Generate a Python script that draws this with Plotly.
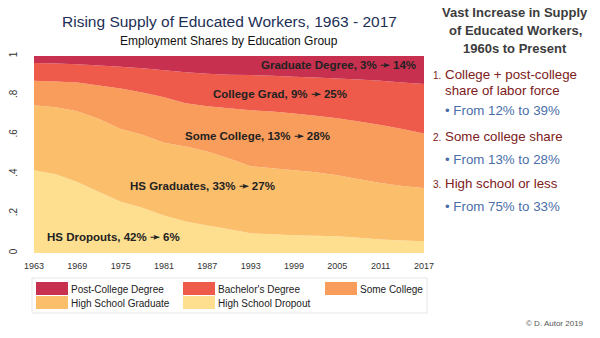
import plotly.graph_objects as go

years = [1963, 1966, 1969, 1972, 1975, 1978, 1981, 1984, 1987, 1990,
         1993, 1996, 1999, 2002, 2005, 2008, 2011, 2014, 2017]
hs_dropout = [0.42, 0.40, 0.36, 0.31, 0.26, 0.23, 0.19, 0.16, 0.14, 0.12,
              0.10, 0.095, 0.09, 0.088, 0.085, 0.078, 0.068, 0.063, 0.06]
hs_graduate = [0.33, 0.34, 0.36, 0.37, 0.37, 0.37, 0.37, 0.38, 0.375, 0.36,
               0.34, 0.335, 0.33, 0.322, 0.31, 0.297, 0.287, 0.277, 0.27]
some_college = [0.125, 0.13, 0.145, 0.17, 0.205, 0.215, 0.23, 0.22, 0.23, 0.255,
                0.285, 0.288, 0.288, 0.287, 0.289, 0.293, 0.295, 0.29, 0.277]
bachelors = [0.09, 0.092, 0.093, 0.102, 0.11, 0.123, 0.138, 0.158, 0.165, 0.17,
             0.178, 0.182, 0.187, 0.194, 0.202, 0.213, 0.224, 0.236, 0.251]
post_college = [0.035, 0.038, 0.042, 0.048, 0.055, 0.062, 0.072, 0.082, 0.09, 0.095,
                0.097, 0.10, 0.105, 0.109, 0.114, 0.119, 0.126, 0.134, 0.142]

series_names = ["High School Dropout", "High School Graduate", "Some College",
                "Bachelor's Degree", "Post-College Degree"]
series_values = [hs_dropout, hs_graduate, some_college, bachelors, post_college]
colors = ["#fddf8f", "#fbbf6c", "#f89d5c", "#ee5b4a", "#c7304f"]

x_ticks = [1963, 1969, 1975, 1981, 1987, 1993, 1999, 2005, 2011, 2017]
y_ticks = [0, 0.2, 0.4, 0.6, 0.8, 1]
y_tick_labels = ["0", ".2", ".4", ".6", ".8", "1"]

area_labels = [
    ("Graduate Degree, 3% \u279b 14%", 2016.2, 0.954, "right"),
    ("College Grad, 9% \u279b 25%", 1997.1, 0.807, "center"),
    ("Some College, 13% \u279b 28%", 1994.0, 0.594, "center"),
    ("HS Graduates, 33% \u279b 27%", 1986.3, 0.340, "center"),
    ("HS Dropouts, 42% \u279b 6%", 1964.5, 0.081, "left"),
]

W, H = 600, 338
L, R, T, B = 34, 424, 56, 253

def px(x):
    return (x - L) / (R - L)

def py(y):
    return (B - y) / (B - T)

fig = go.Figure()
for name, vals, col in zip(series_names, series_values, colors):
    fig.add_trace(go.Scatter(
        x=years, y=vals, name=name, stackgroup="one", mode="none",
        fillcolor=col, line=dict(width=0), hoverinfo="x+y+name"))

FONT = "Liberation Sans, Arial, sans-serif"
ann = []
for text, x, y, anc in area_labels:
    ann.append(dict(x=x, y=y, xref="x", yref="y", text="<b>" + text + "</b>",
                    showarrow=False, xanchor=anc, yanchor="middle",
                    font=dict(family=FONT, size=11.5, color="#222222")))

# titles
ann.append(dict(x=px(229), y=py(22), xref="paper", yref="paper",
                text="Rising Supply of Educated Workers, 1963 - 2017", showarrow=False,
                xanchor="center", yanchor="middle",
                font=dict(family=FONT, size=15.5, color="#1d2f55")))
ann.append(dict(x=px(229), y=py(41), xref="paper", yref="paper",
                text="Employment Shares by Education Group", showarrow=False,
                xanchor="center", yanchor="middle",
                font=dict(family=FONT, size=12, color="#111111")))

# right panel
head = ["Vast Increase in Supply", "of Educated Workers,", "1960s to Present"]
for i, t in enumerate(head):
    ann.append(dict(x=px(515), y=py(13 + i * 17.5), xref="paper", yref="paper",
                    text="<b>" + t + "</b>", showarrow=False, xanchor="center",
                    yanchor="middle", font=dict(family=FONT, size=13, color="#3c3c3c")))
RED = "#7d2020"
BLUE = "#4a6ea8"
items = [
    ("<span style='font-size:10px'>1.</span> College + post-college", 431, 74, RED),
    ("share of labor force", 443, 90, RED),
    ("\u2022 From 12% to 39%", 443, 110, BLUE),
    ("<span style='font-size:10px'>2.</span> Some college share", 431, 136, RED),
    ("\u2022 From 13% to 28%", 443, 159, BLUE),
    ("<span style='font-size:10px'>3.</span> High school or less", 431, 183, RED),
    ("\u2022 From 75% to 33%", 443, 206, BLUE),
]
for t, x, y, c in items:
    ann.append(dict(x=px(x), y=py(y), xref="paper", yref="paper", text=t,
                    showarrow=False, xanchor="left", yanchor="middle",
                    font=dict(family=FONT, size=13.3, color=c)))

ann.append(dict(x=px(586), y=py(323), xref="paper", yref="paper",
                text="\u00a9 D. Autor 2019", showarrow=False, xanchor="right",
                yanchor="middle", font=dict(family=FONT, size=8, color="#555555")))

# legend (manual)
shapes = [dict(type="rect", xref="paper", yref="paper", x0=px(32), x1=px(427),
               y0=py(278), y1=py(313), line=dict(color="#e6e6e6", width=1),
               fillcolor="white", layer="above")]
legend_pos = {
    "Post-College Degree": (36, 282),
    "Bachelor's Degree": (183, 282),
    "Some College": (325, 282),
    "High School Graduate": (36, 296),
    "High School Dropout": (183, 296),
}
for name, col in zip(series_names, colors):
    x0, y0 = legend_pos[name]
    shapes.append(dict(type="rect", xref="paper", yref="paper", x0=px(x0), x1=px(x0 + 32),
                       y0=py(y0), y1=py(y0 + 13), line=dict(width=0), fillcolor=col,
                       layer="above"))
    ann.append(dict(x=px(x0 + 33), y=py(y0 + 7), xref="paper", yref="paper", text=name,
                    showarrow=False, xanchor="left", yanchor="middle",
                    font=dict(family=FONT, size=10, color="#222222")))

fig.update_layout(
    width=W, height=H, margin=dict(l=L, r=W - R, t=T, b=H - B),
    paper_bgcolor="white", plot_bgcolor="white", showlegend=False,
    annotations=ann, shapes=shapes,
    xaxis=dict(range=[1963, 2017], tickvals=x_ticks, showgrid=False, zeroline=False,
               showline=False, ticks="", ticklabelstandoff=6, automargin=False,
               tickfont=dict(family=FONT, size=9, color="#333333")),
    yaxis=dict(range=[0, 1], tickvals=y_ticks, ticktext=y_tick_labels, tickangle=-90,
               showgrid=False, zeroline=False, showline=False, ticks="",
               ticklabelstandoff=14, automargin=False,
               tickfont=dict(family=FONT, size=10, color="#333333")),
)

fig.write_html("out.html")
